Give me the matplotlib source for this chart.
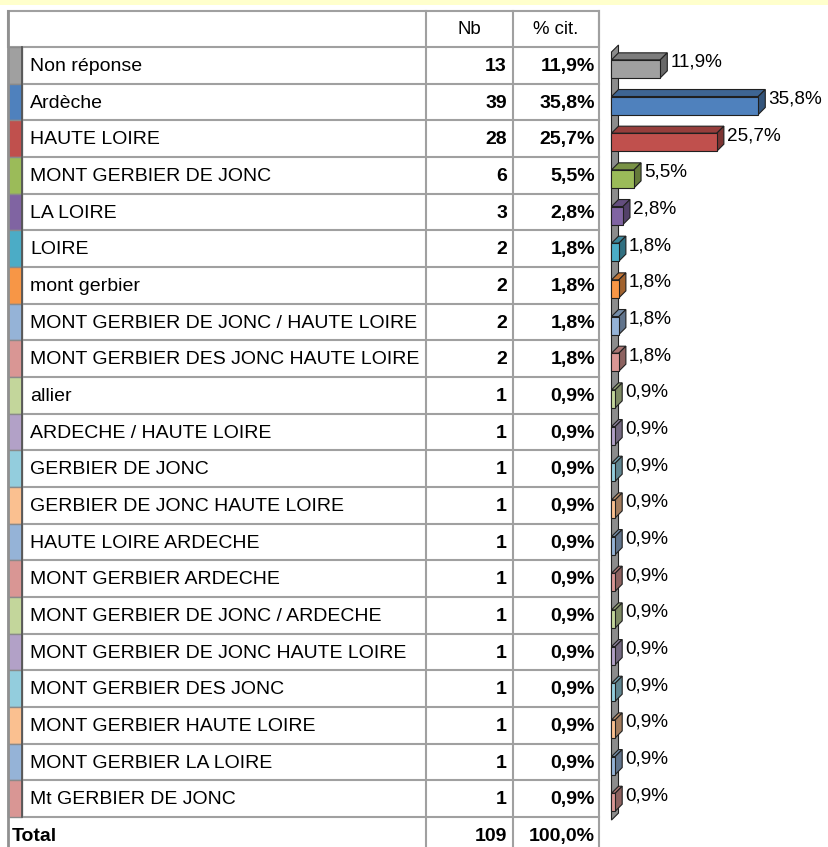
import matplotlib
matplotlib.use('Agg')
import matplotlib.pyplot as plt
from matplotlib.patches import Rectangle, Polygon
from matplotlib.colors import to_rgb

plt.rcParams['font.family'] = ['Liberation Sans', 'DejaVu Sans']

categories = ["Non réponse", "Ardèche", "HAUTE LOIRE", "MONT GERBIER DE JONC", "LA LOIRE",
              "LOIRE", "mont gerbier", "MONT GERBIER DE JONC / HAUTE LOIRE",
              "MONT GERBIER DES JONC HAUTE LOIRE", "allier", "ARDECHE / HAUTE LOIRE",
              "GERBIER DE JONC", "GERBIER DE JONC HAUTE LOIRE", "HAUTE LOIRE ARDECHE",
              "MONT GERBIER ARDECHE", "MONT GERBIER DE JONC / ARDECHE",
              "MONT GERBIER DE JONC HAUTE LOIRE", "MONT GERBIER DES JONC",
              "MONT GERBIER HAUTE LOIRE", "MONT GERBIER LA LOIRE", "Mt GERBIER DE JONC"]
counts = [13, 39, 28, 6, 3, 2, 2, 2, 2, 1, 1, 1, 1, 1, 1, 1, 1, 1, 1, 1, 1]
percents = [11.9, 35.8, 25.7, 5.5, 2.8, 1.8, 1.8, 1.8, 1.8, 0.9, 0.9, 0.9, 0.9, 0.9,
            0.9, 0.9, 0.9, 0.9, 0.9, 0.9, 0.9]
colors = ['#A0A0A0', '#4F81BD', '#C0504D', '#9BBB59', '#8064A2', '#4BACC6', '#F79646',
          '#95B3D7', '#D99694', '#C3D69B', '#B2A1C7', '#93CDDD', '#FAC090',
          '#95B3D7', '#D99694', '#C3D69B', '#B2A1C7', '#93CDDD', '#FAC090',
          '#95B3D7', '#D99694']
header = ["Nb", "% cit."]
total_label = "Total"
total_count = 109
total_pct = 100.0


def fmt(p):
    return f"{p:.1f}%".replace('.', ',')


def shade(c, f):
    r, g, b = to_rgb(c)
    return (r * f, g * f, b * f)


W, H = 829, 847
fig = plt.figure(figsize=(W / 100, H / 100), dpi=100)
fig.patch.set_facecolor('white')

# ---------- table layout (pixel coordinates) ----------
tab = fig.add_axes([0, 0, 1, 1])
tab.set_xlim(0, W)
tab.set_ylim(H, 0)
tab.axis('off')

head_top = 11
row0 = 47
rh = 36.67
n = len(categories)
x_left, x_strip, x_c1, x_c2, x_right = 8.5, 22, 426, 513, 599
grid = '#A0A0A0'
fs = 14.0

# yellow band
tab.add_patch(Rectangle((0, 0), W, 5, facecolor='#FFFFCC', edgecolor='none'))

# header
tab.add_patch(Rectangle((x_left, head_top), x_right - x_left, row0 - head_top,
                        facecolor='white', edgecolor=grid, lw=1.5))
hy = (head_top + row0) / 2
tab.text((x_c1 + x_c2) / 2, hy, header[0], ha='center', va='center', fontsize=fs - 0.6)
tab.text((x_c2 + x_right) / 2, hy, header[1], ha='center', va='center', fontsize=fs - 0.6)

for i in range(n):
    top = row0 + i * rh
    cy = top + rh / 2
    tab.add_patch(Rectangle((x_left, top), x_strip - x_left, rh, facecolor=colors[i],
                            edgecolor='#8A8A8A', lw=1.0))
    tab.plot([x_strip, x_right], [top + rh, top + rh], color=grid, lw=1.5)
    tab.text(30, cy + 1, categories[i], ha='left', va='center', fontsize=fs)
    tab.text(507, cy + 1, str(counts[i]), ha='right', va='center', fontsize=fs,
             fontweight='bold')
    tab.text(595, cy + 1, fmt(percents[i]), ha='right', va='center', fontsize=fs,
             fontweight='bold')

bottom_rows = row0 + n * rh
tot_cy = bottom_rows + rh / 2
tab.text(12, tot_cy + 1, total_label, ha='left', va='center', fontsize=fs, fontweight='bold')
tab.text(507, tot_cy + 1, str(total_count), ha='right', va='center', fontsize=fs,
         fontweight='bold')
tab.text(595, tot_cy + 1, fmt(total_pct), ha='right', va='center', fontsize=fs,
         fontweight='bold')

# vertical lines
for x in (x_c1, x_c2, x_right):
    tab.plot([x, x], [head_top, H], color=grid, lw=1.5)
tab.plot([x_left, x_left], [head_top, H], color='#909090', lw=2)
tab.plot([x_strip, x_strip], [row0, bottom_rows], color='#505050', lw=1.2)

# ---------- 3D bar chart ----------
x0_px = 611.5
px_per = 4.1
bx = fig.add_axes([x0_px / W, 1 - bottom_rows / H, (W - x0_px) / W, (bottom_rows - row0) / H])
bx.set_xlim(0, (W - x0_px) / px_per)
bx.set_ylim(n - 0.5, -0.5)
bx.axis('off')
bx.patch.set_alpha(0)

dx = 7 / px_per
dy = 7 / rh
edge = '#202020'

# wall
wt = -0.5 + 5 / rh
wb = n - 0.5 + 3 / rh
bx.add_patch(Polygon([(0, wt), (dx, wt - dy), (dx, wb - dy), (0, wb)], closed=True,
                     facecolor='#8C8C8C', edgecolor=edge, lw=0.8, clip_on=False))

for i, (v, c) in enumerate(zip(percents, colors)):
    ft = i - 5.5 / rh
    fb = i + 12.5 / rh
    bx.add_patch(Polygon([(0, ft), (v, ft), (v + dx, ft - dy), (dx, ft - dy)], closed=True,
                         facecolor=shade(c, 0.78), edgecolor=edge, lw=0.8, clip_on=False))
    bx.add_patch(Polygon([(v, ft), (v + dx, ft - dy), (v + dx, fb - dy), (v, fb)], closed=True,
                         facecolor=shade(c, 0.65), edgecolor=edge, lw=0.8, clip_on=False))
    bx.add_patch(Rectangle((0, ft), v, fb - ft, facecolor=c, edgecolor=edge, lw=0.8,
                           clip_on=False))
    bx.text(v + dx + 3 / px_per, i - 3 / rh, fmt(v), ha='left', va='center',
            fontsize=13.6, clip_on=False)

fig.savefig('out.png', dpi=100, facecolor='white')
